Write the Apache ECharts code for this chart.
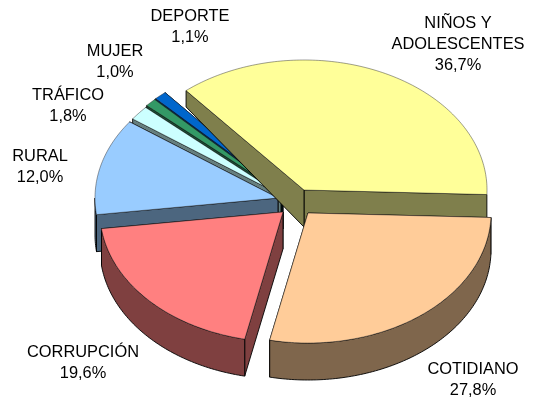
<!DOCTYPE html>
<html>
<head>
<meta charset="utf-8">
<style>
  html, body { margin: 0; padding: 0; background: #fff; }
  #chart { width: 534px; height: 400px; }
</style>
<script src="https://cdn.jsdelivr.net/npm/echarts@6/dist/echarts.min.js"></script>
</head>
<body>
<div id="chart"></div>
<script>
// data, clockwise from the right-hand edge of the pie
const categories = ["COTIDIANO", "CORRUPCIÓN", "RURAL", "TRÁFICO", "MUJER", "DEPORTE", "NIÑOS Y\nADOLESCENTES"];
const shares = [27.8, 19.6, 12.0, 1.8, 1.0, 1.1, 36.7];

// look of each slice
const sliceColors = ["#FFCC99", "#FF8080", "#99CCFF", "#CCFFFF", "#339966", "#0066CC", "#FFFF99"];
const wallColors = ["#7F664C", "#7F4040", "#4C667F", "#667F7F", "#194C33", "#003366", "#7F7F4C"];
const drawOrder = [6, 5, 3, 2, 1, 0, 4]; // z per slice, back to front

// exploded apex of each slice [x, y] and label anchor [x, first line y]
const apexes = [[308, 213], [283, 212], [278, 198], [281, 195], [282, 193], [283, 192], [304, 190]];
const labelSpots = [[473, 369], [83, 352], [40, 156], [68, 95], [115, 51], [190, 16], [458, 23]];

const RX = 183;
const RY = 130;
const START_DEG = 2;
const DEPTH = 37;
const BACK_SHRINK = 27; // perspective, walls get shorter towards the back
const LINE_H = 21.4;

const total = shares.reduce(function (a, b) { return a + b; }, 0);

function rad(d) {
  return (d * Math.PI) / 180;
}

function sliceAngles(index) {
  let from = START_DEG;
  for (let i = 0; i < index; i++) {
    from += (shares[i] / total) * 360;
  }
  return [from, from + (shares[index] / total) * 360];
}

function rimPoint(apex, deg) {
  return [apex[0] + RX * Math.cos(rad(deg)), apex[1] + RY * Math.sin(rad(deg))];
}

function depthAt(deg) {
  return DEPTH + BACK_SHRINK * Math.min(0, Math.sin(rad(deg)));
}

function arcPoints(apex, from, to) {
  const pts = [];
  const steps = Math.max(2, Math.ceil(to - from));
  for (let i = 0; i <= steps; i++) {
    pts.push(rimPoint(apex, from + ((to - from) * i) / steps));
  }
  return pts;
}

function wallPolygon(top, bottom, z, color) {
  return {
    type: "polygon",
    z2: z,
    shape: { points: top.concat(bottom.reverse()) },
    style: { fill: color, stroke: "#000", lineWidth: 0.9 },
  };
}

function cutWall(apex, deg, z, color) {
  const rim = rimPoint(apex, deg);
  return wallPolygon(
    [apex, rim],
    [[apex[0], apex[1] + DEPTH], [rim[0], rim[1] + depthAt(deg)]],
    z,
    color
  );
}

function renderSlice(params, api) {
  const i = params.dataIndex;
  const value = api.value(0);
  const apex = apexes[i];
  const angles = sliceAngles(i);
  const z = drawOrder[i] * 10;
  const children = [];

  // end wall goes first, the start wall is the one that shows where they overlap
  children.push(cutWall(apex, angles[1], z, wallColors[i]));
  children.push(cutWall(apex, angles[0], z + 1, wallColors[i]));

  // curved outer wall, only the part that faces the viewer
  const frontFrom = Math.max(angles[0], 0);
  const frontTo = Math.min(angles[1], 180);
  if (frontTo > frontFrom) {
    const rim = arcPoints(apex, frontFrom, frontTo);
    const low = rim.map(function (p) {
      return [p[0], p[1] + DEPTH];
    });
    children.push(wallPolygon(rim, low, z + 2, wallColors[i]));
  }

  children.push({
    type: "polygon",
    z2: z + 3,
    shape: { points: [apex].concat(arcPoints(apex, angles[0], angles[1])) },
    style: { fill: sliceColors[i], stroke: "rgba(40,40,40,0.75)", lineWidth: 0.6 },
  });

  children.push({
    type: "text",
    z2: 200,
    x: labelSpots[i][0],
    y: labelSpots[i][1] - LINE_H / 2,
    style: {
      text: categories[i] + "\n" + value.toFixed(1).replace(".", ",") + "%",
      font: '16.4px "Liberation Sans", Arial, sans-serif',
      fill: "#000",
      align: "center",
      verticalAlign: "top",
      lineHeight: LINE_H,
    },
  });

  return { type: "group", children: children };
}

const myChart = echarts.init(document.getElementById("chart"));
myChart.setOption({
  animation: false,
  backgroundColor: "#fff",
  series: [
    {
      type: "custom",
      coordinateSystem: "none",
      silent: true,
      renderItem: renderSlice,
      data: shares.map(function (v) {
        return [v];
      }),
    },
  ],
});
</script>
</body>
</html>
